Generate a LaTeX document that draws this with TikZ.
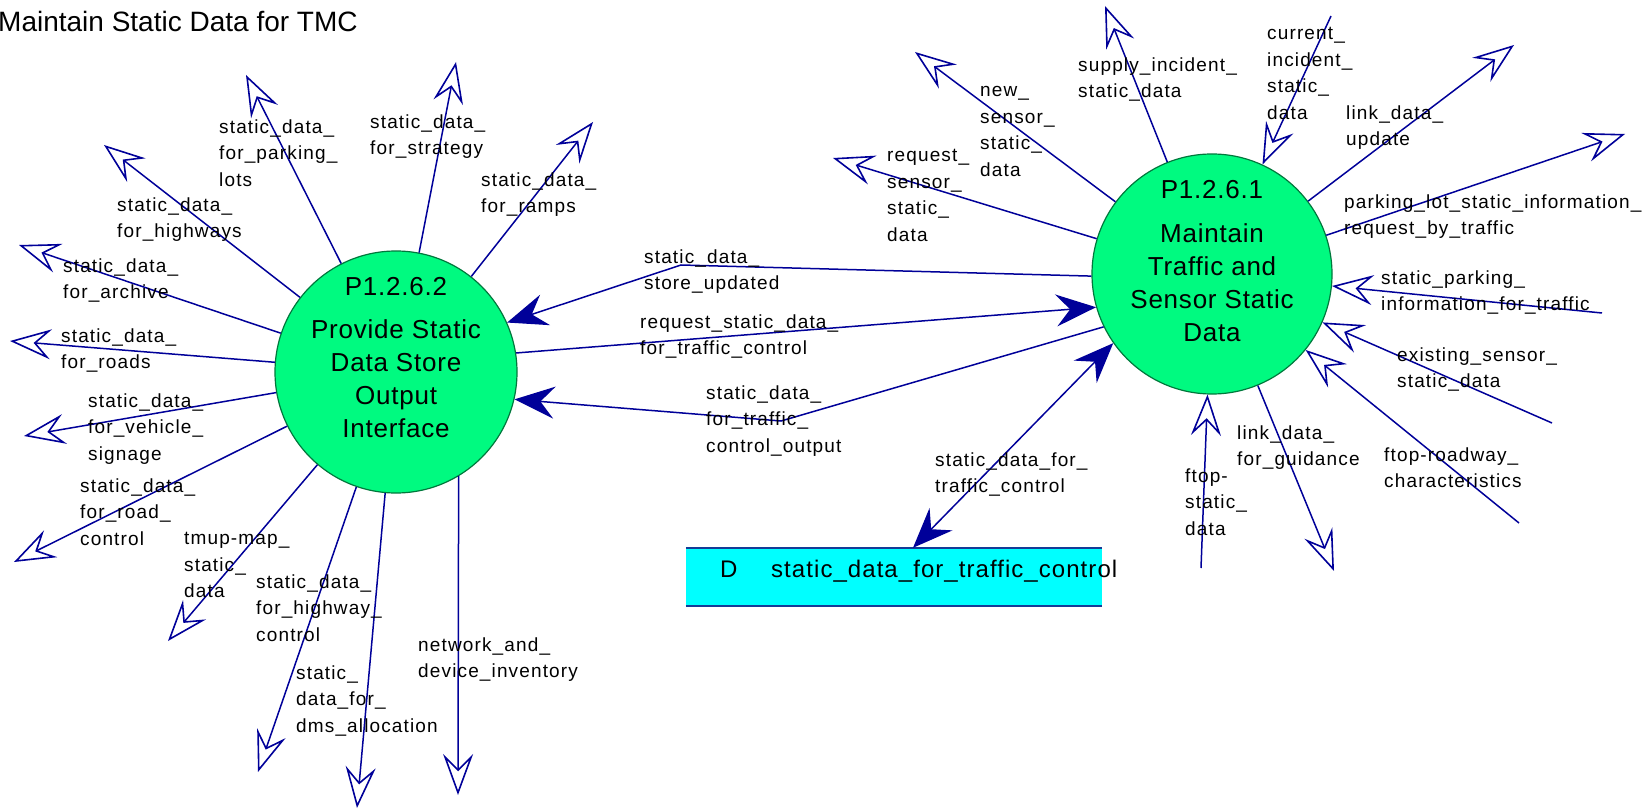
\documentclass[tikz,border=0pt]{standalone}
\usepackage{fontspec}
\setmainfont{Liberation Sans}
\newfontfamily\lblfam[LetterSpace=6]{Liberation Sans}
\newfontfamily\bubfam[LetterSpace=3]{Liberation Sans}
\newfontfamily\storefam[LetterSpace=4.4]{Liberation Sans}
\usetikzlibrary{arrows.meta}
\definecolor{flowblue}{RGB}{0,0,153}
\definecolor{bubfill}{RGB}{0,250,128}
\definecolor{bubedge}{RGB}{0,120,60}
\definecolor{storefill}{RGB}{0,255,255}
\definecolor{storeedge}{RGB}{20,60,150}
\tikzset{
  flow/.style={draw=flowblue, line width=1.5pt},
  openhead/.style={-{Stealth[open, length=41pt, width=30pt, inset=15pt, line width=1.6pt]}},
  fullhead/.style={-{Stealth[length=40pt, width=32pt, inset=14pt]}},
  bothhead/.style={{Stealth[length=40pt, width=32pt, inset=14pt]}-{Stealth[length=40pt, width=32pt, inset=14pt]}},
  bubble/.style={circle, draw=bubedge, line width=1.2pt, fill=bubfill, inner sep=0pt},
  lbl/.style={font=\lblfam\fontsize{19}{26.5}\selectfont, align=left, anchor=north west, yshift=14.5pt, inner sep=0pt, text=black, execute at begin node={\rule{0pt}{14.5pt}}},
  bubid/.style={font=\bubfam\fontsize{26}{33}\selectfont, anchor=base, inner sep=0pt},
  bubname/.style={font=\bubfam\fontsize{26}{33}\selectfont, align=center, anchor=north, yshift=20pt, inner sep=0pt, execute at begin node={\rule{0pt}{20pt}}},
  storebox/.style={rectangle, fill=storefill, minimum width=416pt, minimum height=58pt, inner sep=0pt},
  storetext/.style={font=\storefam\fontsize{24}{28}\selectfont, anchor=base west, inner sep=0pt},
  titletext/.style={font=\fontsize{28}{33}\selectfont, anchor=base west, inner sep=0pt}
}
\begin{document}
\begin{tikzpicture}[x=1pt, y=-1pt]
\useasboundingbox (0,0) rectangle (1652,810);
\fill[white] (0,0) rectangle (1652,810);

\node[titletext] (title) at (-2,31.5) {Maintain Static Data for TMC};

% bubbles
\node[bubble, minimum size=242pt] (c2) at (396,372) {};
\node[bubble, minimum size=240pt] (c1) at (1212,274) {};
\node[bubid] (c2id) at (396,296) {P1.2.6.2};
\node[bubname] (c2name) at (396,339) {Provide Static\\Data Store\\Output\\Interface};
\node[bubid] (c1id) at (1212,199) {P1.2.6.1};
\node[bubname] (c1name) at (1212,243) {Maintain\\Traffic and\\Sensor Static\\Data};

% data store
\node[storebox] (store) at (894,577) {};
\draw[storeedge, line width=2.5pt] (store.north west) -- (store.north east);
\draw[storeedge, line width=2.5pt] (store.south west) -- (store.south east);
\node[storetext] (storeD) at (720,577) {D};
\node[storetext] (storename) at (771,577) {static\_data\_for\_traffic\_control};

% free ends, left bubble
\coordinate (t_parklots) at (246,75);
\coordinate (t_strategy) at (456,62);
\coordinate (t_ramps) at (593,122);
\coordinate (t_highways) at (104,145);
\coordinate (t_archive) at (19,245);
\coordinate (t_roads) at (10,341);
\coordinate (t_vehicle) at (24,436);
\coordinate (t_roadctl) at (14,562);
\coordinate (t_tmup) at (168,641);
\coordinate (t_hwyctl) at (258,772);
\coordinate (t_dms) at (357,808);
\coordinate (t_network) at (458,795);
% free ends, right bubble
\coordinate (t_newsensor) at (915,52);
\coordinate (t_supply) at (1105,6);
\coordinate (s_current) at (1331,16);
\coordinate (t_linkupdate) at (1514,45);
\coordinate (t_parkinglot) at (1625,134);
\coordinate (s_staticparking) at (1602,313);
\coordinate (s_existing) at (1552,423);
\coordinate (s_ftoproad) at (1519,523);
\coordinate (t_guidance) at (1334,571);
\coordinate (s_ftopstatic) at (1201,568);
\coordinate (t_reqsensor) at (833,158);
% bends
\coordinate (b_updated) at (681,265);
\coordinate (b_output) at (781,421);

% left bubble outputs
\draw[flow, openhead] (c2) -- (t_parklots);
\draw[flow, openhead] (c2) -- (t_strategy);
\draw[flow, openhead] (c2) -- (t_ramps);
\draw[flow, openhead] (c2) -- (t_highways);
\draw[flow, openhead] (c2) -- (t_archive);
\draw[flow, openhead] (c2) -- (t_roads);
\draw[flow, openhead] (c2) -- (t_vehicle);
\draw[flow, openhead] (c2) -- (t_roadctl);
\draw[flow, openhead] (c2) -- (t_tmup);
\draw[flow, openhead] (c2) -- (t_hwyctl);
\draw[flow, openhead] (c2) -- (t_dms);
\draw[flow, openhead] (c2.-59) -- (t_network);

% right bubble flows
\draw[flow, openhead] (c1) -- (t_newsensor);
\draw[flow, openhead] (c1) -- (t_supply);
\draw[flow, openhead] (s_current) -- (c1);
\draw[flow, openhead] (c1) -- (t_linkupdate);
\draw[flow, openhead] (c1) -- (t_parkinglot);
\draw[flow, openhead] (s_staticparking) -- (c1);
\draw[flow, openhead] (s_existing) -- (c1);
\draw[flow, openhead] (s_ftoproad) -- (c1);
\draw[flow, openhead] (c1) -- (t_guidance);
\draw[flow, openhead] (s_ftopstatic) -- (c1);
\draw[flow, openhead] (c1) -- (t_reqsensor);

% middle flows
\draw[flow, fullhead] (c1.181) -- (b_updated) -- (c2.24);
\draw[flow, fullhead] (c2.9) -- (c1.196);
\draw[flow, fullhead] (c1.206) -- (b_output) -- (c2.347);
\draw[flow, bothhead] ([xshift=19pt]store.north) -- (c1.215);

% labels, left bubble
\node[lbl] (l_parklots) at (219,134) {static\_data\_\\for\_parking\_\\lots};
\node[lbl] (l_strategy) at (370,129) {static\_data\_\\for\_strategy};
\node[lbl] (l_ramps) at (481,187) {static\_data\_\\for\_ramps};
\node[lbl] (l_highways) at (117,212) {static\_data\_\\for\_highways};
\node[lbl] (l_archive) at (63,273) {static\_data\_\\for\_archive};
\node[lbl] (l_roads) at (61,343) {static\_data\_\\for\_roads};
\node[lbl] (l_vehicle) at (88,408) {static\_data\_\\for\_vehicle\_\\signage};
\node[lbl] (l_roadctl) at (80,493) {static\_data\_\\for\_road\_\\control};
\node[lbl] (l_tmup) at (184,547) {tmup-map\_\\static\_\\data};
\node[lbl] (l_hwyctl) at (256,589) {static\_data\_\\for\_highway\_\\control};
\node[lbl] (l_dms) at (296,680) {static\_\\data\_for\_\\dms\_allocation};
\node[lbl] (l_network) at (418,652) {network\_and\_\\device\_inventory};
% labels, middle
\node[lbl] (l_updated) at (644,264) {static\_data\_\\store\_updated};
\node[lbl] (l_request) at (640,329) {request\_static\_data\_\\for\_traffic\_control};
\node[lbl] (l_output) at (706,400) {static\_data\_\\for\_traffic\_\\control\_output};
\node[lbl] (l_sdtc) at (935,467) {static\_data\_for\_\\traffic\_control};
% labels, right bubble
\node[lbl] (l_newsensor) at (980,101) {new\_\\sensor\_\\static\_\\data};
\node[lbl] (l_supply) at (1078,72) {supply\_incident\_\\static\_data};
\node[lbl] (l_current) at (1267,42) {current\_\\incident\_\\static\_\\data};
\node[lbl] (l_linkupdate) at (1346,120) {link\_data\_\\update};
\node[lbl] (l_parkinglot) at (1344,209) {parking\_lot\_static\_information\_\\request\_by\_traffic};
\node[lbl] (l_staticparking) at (1381,285) {static\_parking\_\\information\_for\_traffic};
\node[lbl] (l_existing) at (1397,362) {existing\_sensor\_\\static\_data};
\node[lbl] (l_ftoproad) at (1384,462) {ftop-roadway\_\\characteristics};
\node[lbl] (l_guidance) at (1237,440) {link\_data\_\\for\_guidance};
\node[lbl] (l_ftopstatic) at (1185,483) {ftop-\\static\_\\data};
\node[lbl] (l_reqsensor) at (887,164) {request\_\\sensor\_\\static\_\\data};
\end{tikzpicture}
\end{document}
